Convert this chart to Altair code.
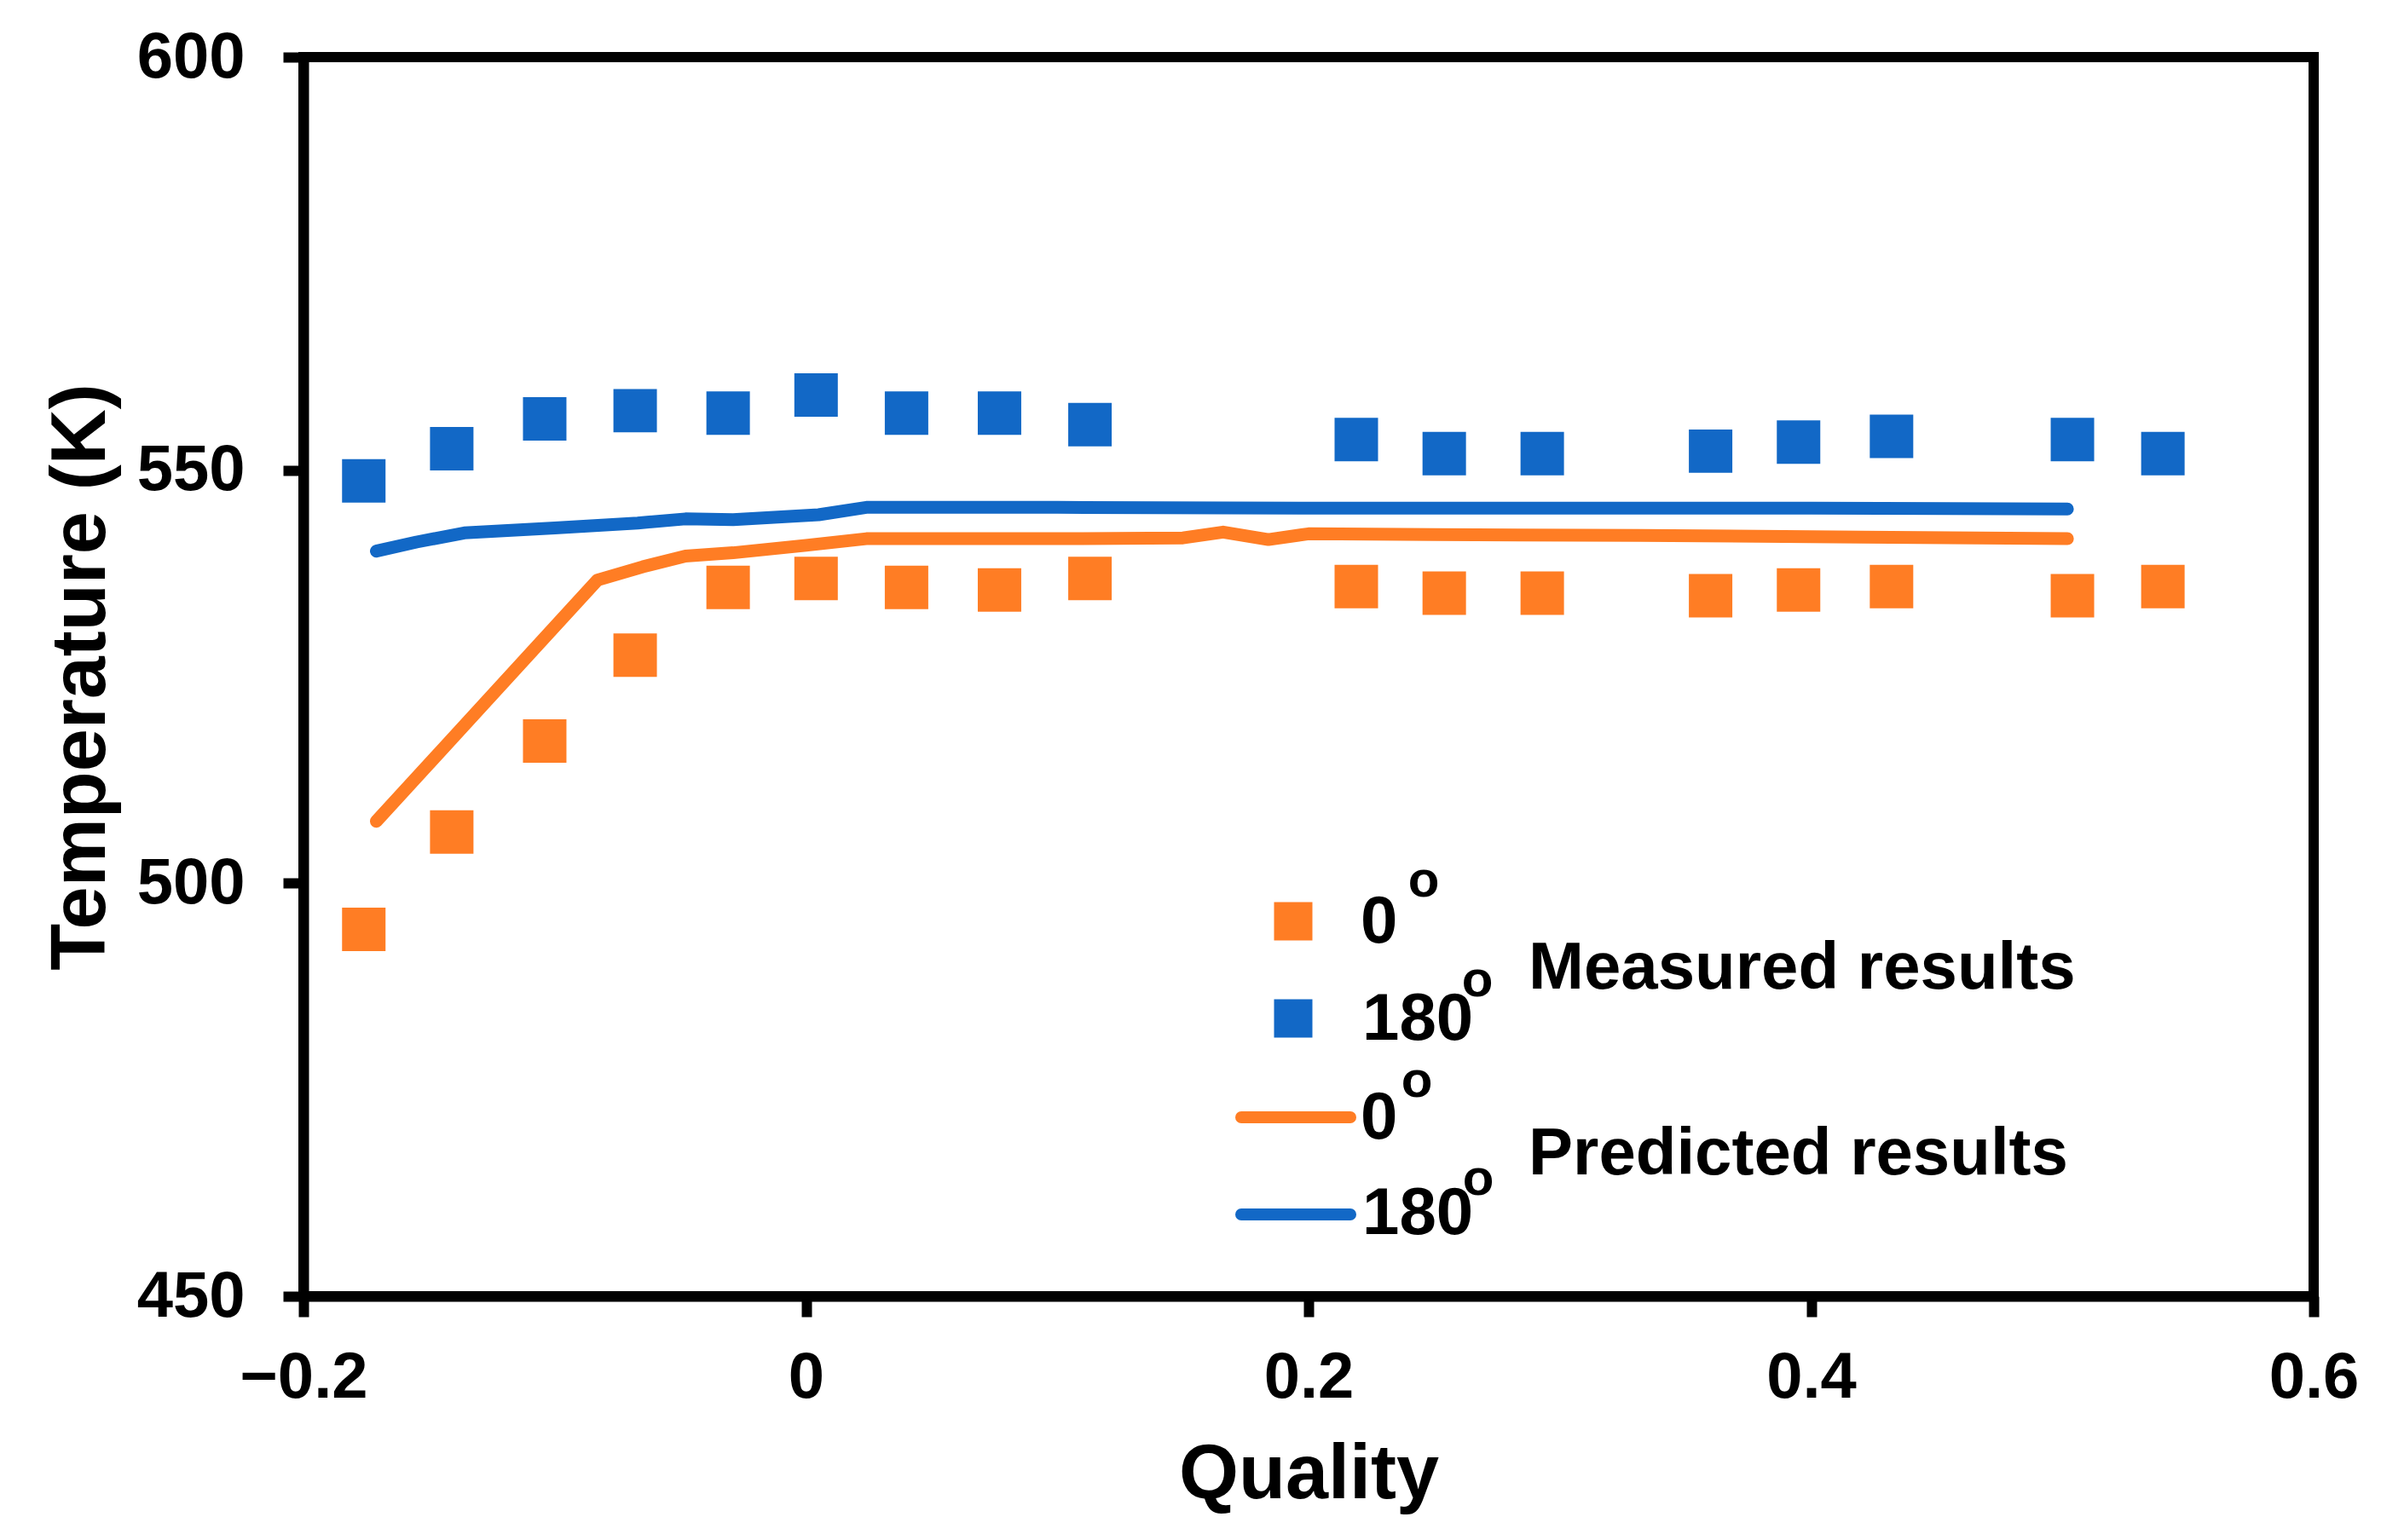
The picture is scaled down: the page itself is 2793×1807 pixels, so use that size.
import altair as alt
import pandas as pd

ORANGE = "#FF7D24"
BLUE = "#1268C6"
FONT = "Liberation Sans"

# ---- data ----
quality_measured = [-0.176, -0.141, -0.104, -0.068, -0.031, 0.004, 0.040, 0.077, 0.113,
                    0.219, 0.254, 0.293, 0.360, 0.395, 0.432, 0.504, 0.540]
temp_measured_0 = [494.4, 506.2, 517.2, 527.6, 535.8, 536.9, 535.8, 535.5, 536.9,
                   535.9, 535.1, 535.1, 534.8, 535.5, 535.9, 534.8, 535.9]
temp_measured_180 = [548.7, 552.6, 556.2, 557.2, 556.9, 559.1, 556.9, 556.9, 555.5,
                     553.7, 552.0, 552.0, 552.3, 553.4, 554.1, 553.7, 552.0]

quality_pred_0 = [-0.171, -0.083, -0.065, -0.048, -0.029, 0.000, 0.024, 0.100, 0.150,
                  0.166, 0.184, 0.200, 0.250, 0.332, 0.420, 0.502]
temp_pred_0 = [507.5, 536.7, 538.3, 539.6, 540.0, 540.9, 541.7, 541.7, 541.8,
               542.5, 541.6, 542.3, 542.2, 542.1, 541.9, 541.7]

quality_pred_180 = [-0.171, -0.155, -0.136, -0.100, -0.067, -0.048, -0.029, 0.005, 0.024,
                    0.100, 0.200, 0.300, 0.400, 0.502]
temp_pred_180 = [540.2, 541.3, 542.4, 543.0, 543.6, 544.1, 544.0, 544.6, 545.5,
                 545.5, 545.4, 545.4, 545.4, 545.3]

series = ["0", "180"]
x_ticks = [-0.2, 0, 0.2, 0.4, 0.6]
y_ticks = [450, 500, 550, 600]
legend_groups = ["Measured results", "Predicted results"]

n = len(quality_measured)
measured = pd.DataFrame({
    "Quality": quality_measured * 2,
    "T": temp_measured_0 + temp_measured_180,
    "angle": [series[0]] * n + [series[1]] * n,
})
predicted = pd.DataFrame({
    "Quality": quality_pred_0 + quality_pred_180,
    "T": temp_pred_0 + temp_pred_180,
    "angle": [series[0]] * len(quality_pred_0) + [series[1]] * len(quality_pred_180),
})

color_scale = alt.Scale(domain=series, range=[ORANGE, BLUE])

x_enc = alt.X(
    "Quality:Q",
    scale=alt.Scale(domain=[-0.2, 0.6], nice=False, zero=False),
    axis=alt.Axis(values=x_ticks, format="~g", title="Quality", titleY=236,
                  titleBaseline="alphabetic", labelPadding=34, labelFlush=False,
                  labelOverlap=False),
)
y_enc = alt.Y(
    "T:Q",
    scale=alt.Scale(domain=[450, 600], nice=False, zero=False),
    axis=alt.Axis(values=y_ticks, format="d", title="Temperature (K)", titleX=-234,
                  titleBaseline="alphabetic", labelPadding=45, labelFlush=False,
                  labelOverlap=False),
)

meas_layer = alt.Chart(measured).mark_square(size=2600, opacity=1).encode(
    x=x_enc, y=y_enc,
    color=alt.Color("angle:N", scale=color_scale, legend=None),
)

pred_layer = alt.Chart(predicted).mark_line(strokeWidth=15, strokeCap="round",
                                            strokeJoin="round").encode(
    x="Quality:Q", y="T:Q",
    color=alt.Color("angle:N", scale=color_scale, legend=None),
    detail="angle:N",
)

one = alt.Data(values=[{"k": 1}])


def sq(x, y, color):
    return alt.Chart(one).mark_square(size=2025, opacity=1, color=color).encode(
        x=alt.value(x), y=alt.value(y))


def ln(x1, x2, y, color):
    return alt.Chart(one).mark_rule(strokeWidth=14, strokeCap="round", color=color).encode(
        x=alt.value(x1), x2=alt.value(x2), y=alt.value(y))


def tx(x, y, text, size=78, align="left"):
    return alt.Chart(one).mark_text(font=FONT, fontSize=size, fontWeight="bold",
                                    color="black", align=align,
                                    baseline="alphabetic").encode(
        x=alt.value(x), y=alt.value(y), text=alt.value(text))


legend_layers = [
    sq(1161, 1014, ORANGE),
    sq(1161, 1128, BLUE),
    ln(1100, 1228, 1244, ORANGE),
    ln(1100, 1228, 1358, BLUE),
    tx(1240, 1039, series[0]),
    tx(1314, 985, "o", 60, "center"),
    tx(1242, 1153, series[1]),
    tx(1377, 1102, "o", 60, "center"),
    tx(1437, 1093, legend_groups[0]),
    tx(1240, 1269, series[0]),
    tx(1306, 1220, "o", 60, "center"),
    tx(1242, 1381, series[1]),
    tx(1378, 1335, "o", 60, "center"),
    tx(1437, 1311, legend_groups[1]),
]

chart = alt.layer(meas_layer, pred_layer, *legend_layers).properties(
    width=2358, height=1454,
    padding={"left": 348, "top": 59, "right": 60, "bottom": 260},
    autosize="none",
    background="white",
).configure_view(
    stroke="black", strokeWidth=12
).configure_axis(
    grid=False,
    domainColor="black", domainWidth=12,
    tickColor="black", tickWidth=12, tickSize=24,
    labelFont=FONT, labelFontSize=76, labelFontWeight="bold", labelColor="black",
    titleFont=FONT, titleFontSize=90, titleFontWeight="bold", titleColor="black",
)

chart.save("out.html", embed_options={"renderer": "svg", "actions": False})
